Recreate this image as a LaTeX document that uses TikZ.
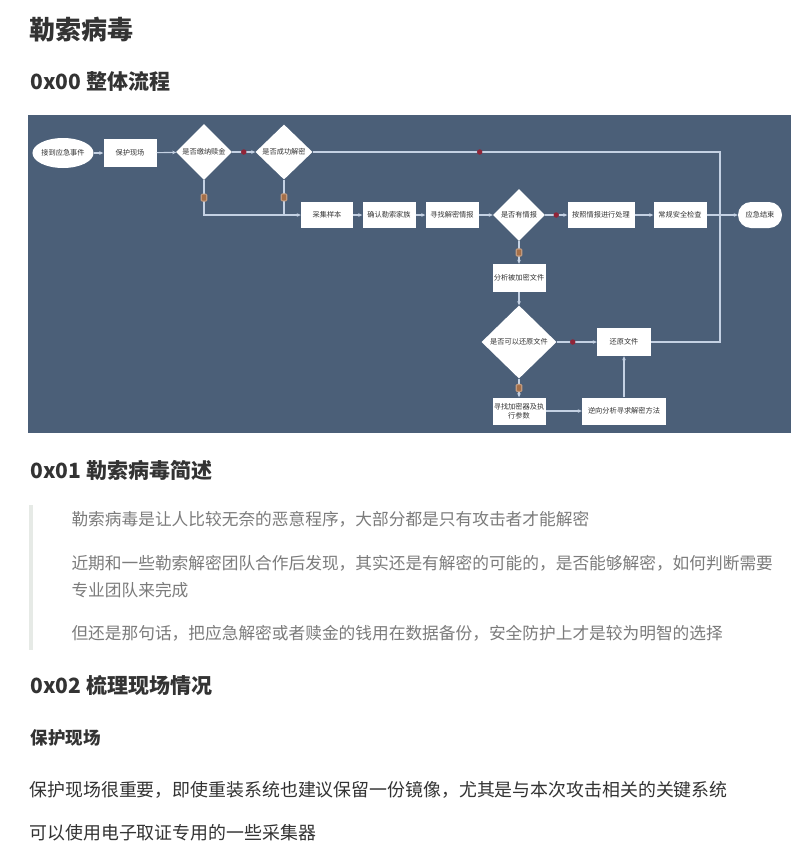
\documentclass[tikz,border=0pt]{standalone}
\usepackage{fontspec}
\setmainfont{Noto Sans CJK SC}
\usetikzlibrary{shapes.geometric,arrows.meta}
\definecolor{panel}{HTML}{4B5F78}
\definecolor{wire}{HTML}{C4D1E3}
\definecolor{ink}{HTML}{333333}
\definecolor{quotegray}{HTML}{7B7B7B}
\definecolor{yesred}{HTML}{902538}
\definecolor{nobrown}{HTML}{A56F48}
\definecolor{quotebar}{HTML}{E6EAE6}
\begin{document}
\begin{tikzpicture}[x=1pt,y=-1pt,
  >={Stealth[length=4pt,width=3.6pt]},
  box/.style={fill=white, inner sep=0pt, minimum height=26, align=center, font=\fontsize{7.2}{9}\selectfont, text=ink},
  ask/.style={box, diamond, minimum height=0},
  flow/.style={->, draw=wire, line width=1.1pt},
  wireline/.style={draw=wire, line width=1.1pt},
  yesdot/.style={circle, fill=yesred, inner sep=0pt, minimum size=5.5},
  nomark/.style={rectangle, rounded corners=1pt, fill=nobrown, draw=nobrown!70!white, inner sep=0pt, minimum width=5.5, minimum height=7},
  head/.style={anchor=west, text=ink, font=\fontsize{21}{25}\selectfont\bfseries},
  quoteline/.style={anchor=west, text=quotegray, font=\fontsize{16.7}{20}\selectfont},
  bodyline/.style={anchor=west, text=ink, font=\fontsize{17.9}{21}\selectfont}]
\useasboundingbox (0,0) rectangle (807,863);
\fill[white] (0,0) rectangle (807,863);

% page text
\node[head, font=\fontsize{26}{30}\selectfont\bfseries] (title) at (26,30) {勒索病毒};
\node[head] (h0) at (27,81) {0x00 整体流程};

% flowchart panel
\fill[panel] (28,115) rectangle (791,433);

\node[box, ellipse, minimum width=54, minimum height=30] (recv) at (63,153) {接到应急事件};
\node[box, minimum width=53, minimum height=28] (prot) at (130,153) {保护现场};
\node[ask, minimum width=56, minimum height=56] (pay) at (204,152) {是否缴纳赎金};
\node[ask, minimum width=57, minimum height=55] (dec) at (284,152) {是否成功解密};

\node[box, minimum width=52] (samp) at (327,215) {采集样本};
\node[box, minimum width=53] (fam) at (389,215) {确认勒索家族};
\node[box, minimum width=53] (intel) at (452,215) {寻找解密情报};
\node[ask, minimum width=52, minimum height=52] (hasi) at (519,215) {是否有情报};
\node[box, minimum width=67] (proc) at (601,215) {按照情报进行处理};
\node[box, minimum width=53] (chk) at (680,215) {常规安全检查};
\node[box, rounded corners=13, minimum width=44] (fin) at (760,215) {应急结束};

\node[box, minimum width=53, minimum height=28] (ana) at (519,278) {分析被加密文件};
\node[ask, minimum width=75, minimum height=73] (can) at (519,342) {是否可以还原文件};
\node[box, minimum width=54, minimum height=28] (rest) at (624,342) {还原文件};
\node[box, minimum width=53, minimum height=27] (find) at (519,411) {寻找加密器及执\\行参数};
\node[box, minimum width=84, minimum height=27] (rev) at (624,411) {逆向分析寻求解密方法};

\coordinate (ne) at (720,152);
\coordinate (se) at (720,342);

\draw[flow] (recv) -- (prot);
\draw[flow] (prot) -- (pay);
\draw[flow] (pay) -- node[yesdot] {} (dec);
\draw[wireline] (dec.east) -- node[yesdot, pos=0.41] {} (ne) -- (se) -- (rest.east);
\draw[flow] (pay.south) -- node[nomark] {} (pay.south |- samp.west) -- (samp.west);
\draw[wireline] (dec.south) -- node[nomark] {} (dec.south |- samp.west);

\draw[flow] (samp) -- (fam);
\draw[flow] (fam) -- (intel);
\draw[flow] (intel) -- (hasi);
\draw[flow] (hasi) -- node[yesdot] {} (proc);
\draw[flow] (proc) -- (chk);
\draw[flow] (chk) -- (fin);

\draw[flow] (hasi) -- node[nomark] {} (ana);
\draw[flow] (ana) -- (can);
\draw[flow] (can) -- node[yesdot, pos=0.4] {} (rest);
\draw[flow] (can) -- node[nomark] {} (find);
\draw[flow] (find) -- (rev);
\draw[flow] (rev) -- (rest);

% page text below the panel
\node[head] (h1) at (27,470) {0x01 勒索病毒简述};
\fill[quotebar] (29,505) rectangle (33,650);
\node[quoteline] (q1) at (68,519) {勒索病毒是让人比较无奈的恶意程序，大部分都是只有攻击者才能解密};
\node[quoteline] (q2) at (68,563) {近期和一些勒索解密团队合作后发现，其实还是有解密的可能的，是否能够解密，如何判断需要};
\node[quoteline] (q3) at (68,590) {专业团队来完成};
\node[quoteline] (q4) at (68,633) {但还是那句话，把应急解密或者赎金的钱用在数据备份，安全防护上才是较为明智的选择};
\node[head] (h2) at (27,685) {0x02 梳理现场情况};
\node[head, font=\fontsize{17.5}{21}\selectfont\bfseries] (sub) at (27,738) {保护现场};
\node[bodyline] (p1) at (26,790) {保护现场很重要，即使重装系统也建议保留一份镜像，尤其是与本次攻击相关的关键系统};
\node[bodyline] (p2) at (26,833) {可以使用电子取证专用的一些采集器};
\end{tikzpicture}
\end{document}
